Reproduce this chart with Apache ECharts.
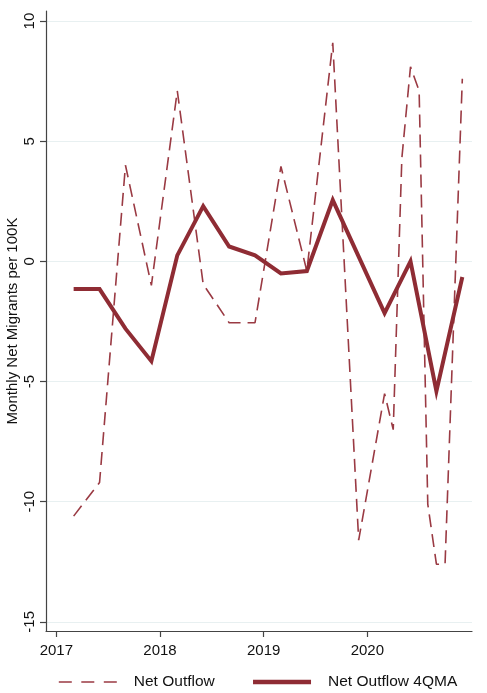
<!DOCTYPE html>
<html>
<head>
<meta charset="utf-8">
<script src="https://cdn.jsdelivr.net/npm/echarts@6/dist/echarts.min.js"></script>
<style>
  html, body { margin: 0; padding: 0; background: #fff; }
  #chart { width: 487px; height: 693px; }
</style>
</head>
<body>
<div id="chart"></div>
<script>
const outflowMonths = [
  "2017-03", "2017-06", "2017-09", "2017-12",
  "2018-03", "2018-06", "2018-09", "2018-12",
  "2019-03", "2019-06", "2019-09", "2019-12",
  "2020-03", "2020-04", "2020-05", "2020-06", "2020-07",
  "2020-08", "2020-09", "2020-10", "2020-11", "2020-12",
];
const netOutflow = [
  -10.6, -9.2, 4.0, -1.0,
  7.1, -0.95, -2.55, -2.55,
  3.95, -0.4, 9.1, -11.6,
  -5.5, -7.0, 4.3, 8.1, 7.1,
  -10.1, -12.6, -12.6, -2.5, 7.6,
];

const maMonths = [
  "2017-03", "2017-06", "2017-09", "2017-12",
  "2018-03", "2018-06", "2018-09", "2018-12",
  "2019-03", "2019-06", "2019-09", "2019-12",
  "2020-03", "2020-06", "2020-09", "2020-12",
];
const netOutflow4QMA = [
  -1.15, -1.15, -2.8, -4.15,
  0.25, 2.3, 0.62, 0.25,
  -0.5, -0.4, 2.55, 0.2,
  -2.15, 0.0, -5.4, -0.65,
];

const xTicks = [2017, 2018, 2019, 2020];
const yTicks = [-15, -10, -5, 0, 5, 10];

const FONT = "Liberation Sans, Arial, sans-serif";
const RED = "#8f2c34";
const DASH_RED = "#9a3a43";

function toYear(month) {
  const [y, m] = month.split("-").map(Number);
  return y + (m - 1) / 12;
}

function pairs(months, values) {
  return months.map((m, i) => [toYear(m), values[i]]);
}

const chart = echarts.init(document.getElementById("chart"), null, { renderer: "canvas" });

chart.setOption({
  animation: false,
  backgroundColor: "#fff",
  textStyle: { fontFamily: FONT },
  grid: {
    left: 46,
    right: 15,
    top: 11,
    bottom: 62,
    containLabel: false,
    outerBoundsMode: "none",
  },
  legend: {
    left: 53,
    top: 669,
    itemWidth: 58,
    itemHeight: 14,
    itemGap: 36,
    itemStyle: { opacity: 0 },
    textStyle: {
      fontFamily: FONT,
      fontSize: 15.5,
      color: "#111",
      padding: [0, 0, 0, 12],
    },
    data: [
      { name: "Net Outflow", lineStyle: { type: [13, 9.5], width: 1.6 } },
      { name: "Net Outflow 4QMA", lineStyle: { width: 4.5 } },
    ],
  },
  xAxis: {
    type: "value",
    min: 2016.9,
    max: 2021.01,
    axisLine: { show: true, onZero: false, lineStyle: { color: "#444", width: 1.2 } },
    axisTick: {
      show: true,
      length: 6,
      customValues: xTicks,
      lineStyle: { color: "#444", width: 1.2 },
    },
    axisLabel: {
      customValues: xTicks,
      margin: 12,
      fontFamily: FONT,
      fontSize: 15,
      color: "#111",
      formatter: (v) => String(v),
    },
    splitLine: { show: false },
  },
  yAxis: {
    type: "value",
    min: -15.38,
    max: 10.42,
    name: "Monthly Net Migrants per 100K",
    nameLocation: "middle",
    nameGap: 26,
    nameMoveOverlap: false,
    nameTextStyle: { fontFamily: FONT, fontSize: 15, color: "#111" },
    axisLine: { show: true, lineStyle: { color: "#444", width: 1.2 } },
    axisTick: {
      show: true,
      length: 6,
      customValues: yTicks,
      lineStyle: { color: "#444", width: 1.2 },
    },
    axisLabel: {
      customValues: yTicks,
      rotate: 90,
      margin: 9,
      fontFamily: FONT,
      fontSize: 15,
      color: "#111",
    },
    splitLine: { show: true, lineStyle: { color: "#e8f0f1", width: 1.2 } },
  },
  series: [
    {
      name: "Net Outflow",
      type: "line",
      data: pairs(outflowMonths, netOutflow),
      showSymbol: false,
      symbol: "none",
      color: DASH_RED,
      lineStyle: { color: DASH_RED, width: 1.6, type: [13, 7] },
      z: 2,
    },
    {
      name: "Net Outflow 4QMA",
      type: "line",
      data: pairs(maMonths, netOutflow4QMA),
      showSymbol: false,
      symbol: "none",
      color: RED,
      lineStyle: { color: RED, width: 4, join: "miter" },
      z: 3,
    },
  ],
});
</script>
</body>
</html>
